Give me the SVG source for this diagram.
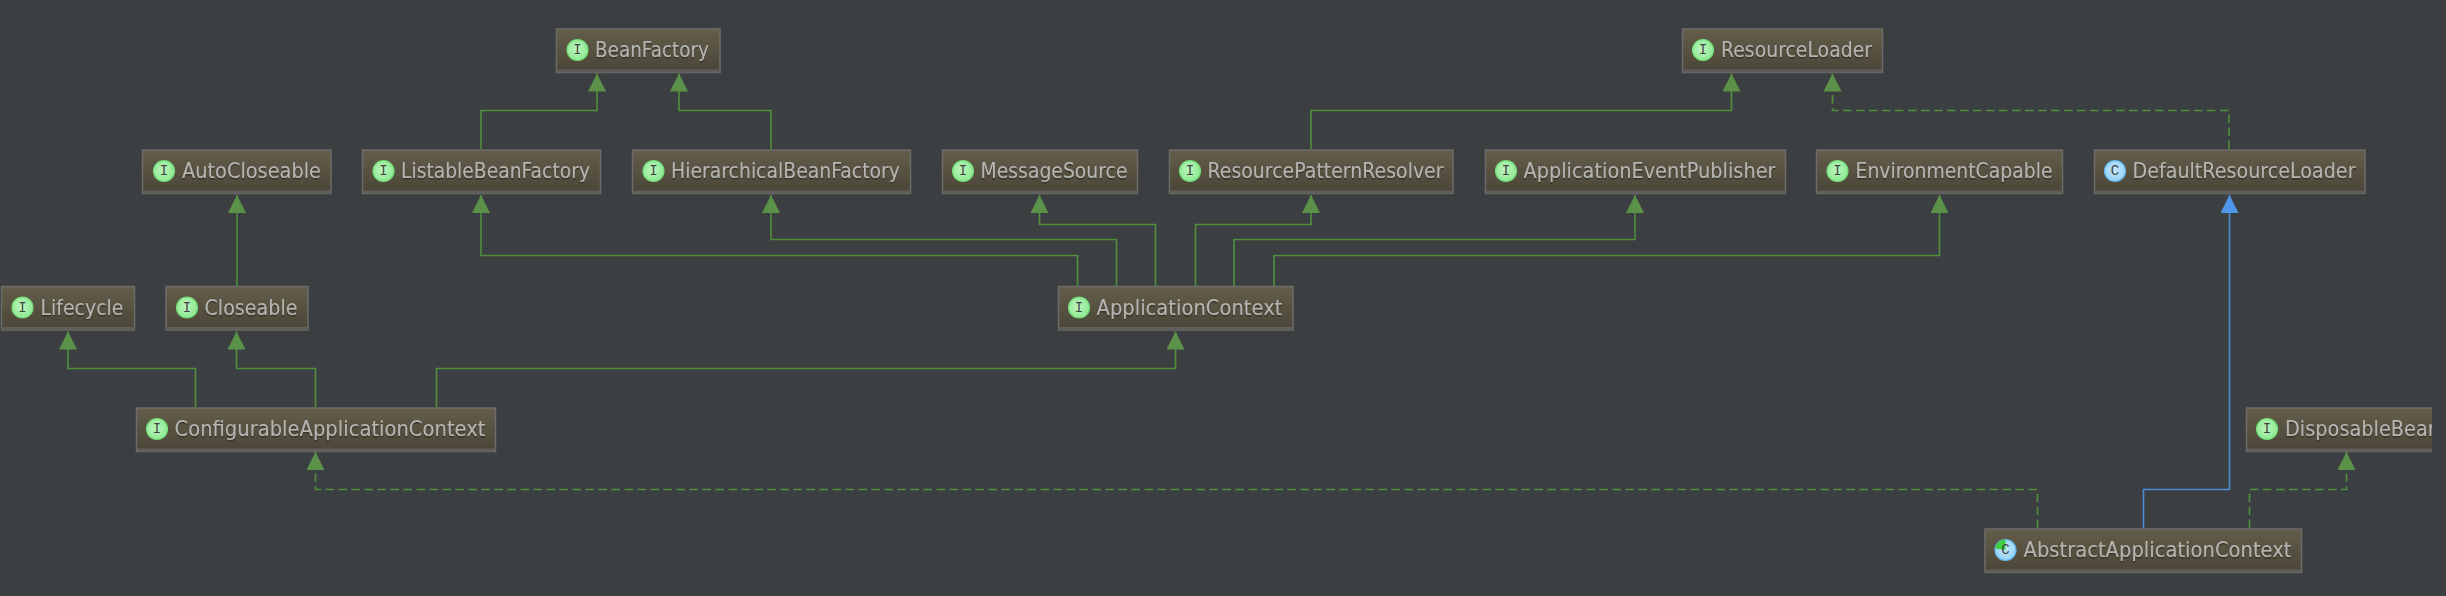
<svg xmlns="http://www.w3.org/2000/svg" width="2446" height="596" viewBox="0 0 2446 596">
<style>
.box{fill:url(#boxFill);stroke:#6c6c6a;stroke-width:1.5}
.band{fill:#5f5e5a}
.lbl{font-family:"DejaVu Sans",sans-serif;font-size:20.5px;fill:#b4b4b1;filter:url(#sh)}
.ic{stroke-width:1.2}
.i{fill:url(#gI);stroke:#72dc76}
.c{fill:url(#gC);stroke:#62b6ec}
.g{font-family:"Liberation Mono",monospace;font-size:14px;fill:#444;text-anchor:middle}
.cn{fill:none;stroke:#4f8f3e;stroke-width:1.6}
.d{stroke-dasharray:8.5 4.5}
.b{fill:none;stroke:#4d8bd6;stroke-width:1.6}
</style>
<defs>
<linearGradient id="boxFill" x1="0" y1="0" x2="0" y2="1"><stop offset="0" stop-color="#645d4b"/><stop offset="1" stop-color="#4a4537"/></linearGradient>
<radialGradient id="gI" cx=".45" cy=".45" r=".6"><stop offset="0" stop-color="#bdf5bd"/><stop offset="1" stop-color="#8ae890"/></radialGradient>
<radialGradient id="gC" cx=".5" cy=".45" r=".6"><stop offset="0" stop-color="#c4e7fb"/><stop offset="1" stop-color="#8fd0f7"/></radialGradient>
<filter id="sh" x="-5%" y="-20%" width="110%" height="150%"><feDropShadow dx="0" dy="1.5" stdDeviation=".6" flood-color="#2c2a22" flood-opacity=".8"/></filter>
<clipPath id="cut"><rect x="2240" y="400" width="192" height="60"/></clipPath>
<marker id="ag" markerUnits="userSpaceOnUse" markerWidth="18" markerHeight="18" refX="18" refY="9" orient="auto"><path d="M0 0L18 9L0 18Z" fill="#5b9149"/></marker>
<marker id="ab" markerUnits="userSpaceOnUse" markerWidth="18" markerHeight="18" refX="18" refY="9" orient="auto"><path d="M0 0L18 9L0 18Z" fill="#4f97ea"/></marker>
</defs>
<rect width="2446" height="596" fill="#3c3f41"/>
<g id="connectors">
<path class="cn" marker-end="url(#ag)" d="M481 149V110.5H597V73.5"/>
<path class="cn" marker-end="url(#ag)" d="M771 149V110.5H679V73.5"/>
<path class="cn" marker-end="url(#ag)" d="M237 286V195"/>
<path class="cn" marker-end="url(#ag)" d="M1077.5 286V255.5H481V195"/>
<path class="cn" marker-end="url(#ag)" d="M1116.5 286V239.5H771V195"/>
<path class="cn" marker-end="url(#ag)" d="M1155.5 286V224.5H1039.5V195"/>
<path class="cn" marker-end="url(#ag)" d="M1195.5 286V224.5H1311V195"/>
<path class="cn" marker-end="url(#ag)" d="M1311 149V110.5H1731.5V73.5"/>
<path class="cn" marker-end="url(#ag)" d="M1234 286V239.5H1635V195"/>
<path class="cn" marker-end="url(#ag)" d="M1274 286V255.5H1939.5V195"/>
<path class="cn d" marker-end="url(#ag)" d="M2229 149V110.5H1832.5V73.5"/>
<path class="b" marker-end="url(#ab)" d="M2143.5 528V489.5H2229.5V195"/>
<path class="cn d" marker-end="url(#ag)" d="M2037.5 528V489.5H315.5V452"/>
<path class="cn d" marker-end="url(#ag)" d="M2249.5 528V489.5H2346.5V452"/>
<path class="cn" marker-end="url(#ag)" d="M195.5 407V368.5H68V331.5"/>
<path class="cn" marker-end="url(#ag)" d="M315.5 407V368.5H236.5V331.5"/>
<path class="cn" marker-end="url(#ag)" d="M436.5 407V368.5H1175.5V331.5"/>
</g>
<g id="BeanFactory"><rect class="box" x="556.5" y="29" width="163.5" height="43.5"/><rect class="band" x="557" y="69.5" width="163" height="3"/><circle class="ic i" cx="577.5" cy="50" r="10.5"/><text class="g" x="577.5" y="54">I</text><text class="lbl" x="595" y="57" textLength="114" lengthAdjust="spacingAndGlyphs">BeanFactory</text></g>
<g id="ResourceLoader"><rect class="box" x="1682.5" y="29" width="200" height="43.5"/><rect class="band" x="1683" y="69.5" width="199" height="3"/><circle class="ic i" cx="1703" cy="50" r="10.5"/><text class="g" x="1703" y="54">I</text><text class="lbl" x="1721" y="57" textLength="151" lengthAdjust="spacingAndGlyphs">ResourceLoader</text></g>
<g id="AutoCloseable"><rect class="box" x="142.5" y="150" width="188.5" height="43.5"/><rect class="band" x="143" y="190.5" width="188" height="3"/><circle class="ic i" cx="164" cy="171" r="10.5"/><text class="g" x="164" y="175">I</text><text class="lbl" x="182" y="178" textLength="139" lengthAdjust="spacingAndGlyphs">AutoCloseable</text></g>
<g id="ListableBeanFactory"><rect class="box" x="362.5" y="150" width="238" height="43.5"/><rect class="band" x="363" y="190.5" width="237.5" height="3"/><circle class="ic i" cx="383.5" cy="171" r="10.5"/><text class="g" x="383.5" y="175">I</text><text class="lbl" x="401" y="178" textLength="189" lengthAdjust="spacingAndGlyphs">ListableBeanFactory</text></g>
<g id="HierarchicalBeanFactory"><rect class="box" x="632.5" y="150" width="278" height="43.5"/><rect class="band" x="633" y="190.5" width="277.5" height="3"/><circle class="ic i" cx="653.5" cy="171" r="10.5"/><text class="g" x="653.5" y="175">I</text><text class="lbl" x="671" y="178" textLength="229" lengthAdjust="spacingAndGlyphs">HierarchicalBeanFactory</text></g>
<g id="MessageSource"><rect class="box" x="942.5" y="150" width="195" height="43.5"/><rect class="band" x="943" y="190.5" width="194.5" height="3"/><circle class="ic i" cx="963" cy="171" r="10.5"/><text class="g" x="963" y="175">I</text><text class="lbl" x="980.5" y="178" textLength="147" lengthAdjust="spacingAndGlyphs">MessageSource</text></g>
<g id="ResourcePatternResolver"><rect class="box" x="1169.5" y="150" width="283.5" height="43.5"/><rect class="band" x="1170" y="190.5" width="283" height="3"/><circle class="ic i" cx="1190" cy="171" r="10.5"/><text class="g" x="1190" y="175">I</text><text class="lbl" x="1207.5" y="178" textLength="236" lengthAdjust="spacingAndGlyphs">ResourcePatternResolver</text></g>
<g id="ApplicationEventPublisher"><rect class="box" x="1485.5" y="150" width="300" height="43.5"/><rect class="band" x="1486" y="190.5" width="299.5" height="3"/><circle class="ic i" cx="1506" cy="171" r="10.5"/><text class="g" x="1506" y="175">I</text><text class="lbl" x="1523.5" y="178" textLength="252" lengthAdjust="spacingAndGlyphs">ApplicationEventPublisher</text></g>
<g id="EnvironmentCapable"><rect class="box" x="1816.5" y="150" width="246" height="43.5"/><rect class="band" x="1817" y="190.5" width="245.5" height="3"/><circle class="ic i" cx="1837.5" cy="171" r="10.5"/><text class="g" x="1837.5" y="175">I</text><text class="lbl" x="1855.5" y="178" textLength="197" lengthAdjust="spacingAndGlyphs">EnvironmentCapable</text></g>
<g id="DefaultResourceLoader"><rect class="box" x="2094.5" y="150" width="270.5" height="43.5"/><rect class="band" x="2095" y="190.5" width="270" height="3"/><circle class="ic c" cx="2115" cy="171" r="10.5"/><text class="g" x="2115" y="175">C</text><text class="lbl" x="2132.5" y="178" textLength="223" lengthAdjust="spacingAndGlyphs">DefaultResourceLoader</text></g>
<g id="Lifecycle"><rect class="box" x="1.5" y="286.5" width="133" height="43.5"/><rect class="band" x="2" y="327" width="132.5" height="3"/><circle class="ic i" cx="22.5" cy="307.5" r="10.5"/><text class="g" x="22.5" y="311.5">I</text><text class="lbl" x="40.5" y="314.5" textLength="83" lengthAdjust="spacingAndGlyphs">Lifecycle</text></g>
<g id="Closeable"><rect class="box" x="166" y="286.5" width="142" height="43.5"/><rect class="band" x="166.5" y="327" width="141.5" height="3"/><circle class="ic i" cx="187" cy="307.5" r="10.5"/><text class="g" x="187" y="311.5">I</text><text class="lbl" x="204.5" y="314.5" textLength="93" lengthAdjust="spacingAndGlyphs">Closeable</text></g>
<g id="ApplicationContext"><rect class="box" x="1058.5" y="286.5" width="234.5" height="43.5"/><rect class="band" x="1059" y="327" width="234" height="3"/><circle class="ic i" cx="1079" cy="307.5" r="10.5"/><text class="g" x="1079" y="311.5">I</text><text class="lbl" x="1096.5" y="314.5" textLength="186" lengthAdjust="spacingAndGlyphs">ApplicationContext</text></g>
<g id="ConfigurableApplicationContext"><rect class="box" x="136.5" y="408" width="359" height="43.5"/><rect class="band" x="137" y="448.5" width="358.5" height="3"/><circle class="ic i" cx="157" cy="429" r="10.5"/><text class="g" x="157" y="433">I</text><text class="lbl" x="174.5" y="436" textLength="311" lengthAdjust="spacingAndGlyphs">ConfigurableApplicationContext</text></g>
<g id="DisposableBean" clip-path="url(#cut)"><rect class="box" x="2246.5" y="408" width="200" height="43.5"/><rect class="band" x="2247" y="448.5" width="199" height="3"/><circle class="ic i" cx="2267" cy="429" r="10.5"/><text class="g" x="2267" y="433">I</text><text class="lbl" x="2285" y="436" textLength="155" lengthAdjust="spacingAndGlyphs">DisposableBean</text></g>
<g id="AbstractApplicationContext"><rect class="box" x="1985" y="529" width="316.5" height="43.5"/><rect class="band" x="1985.5" y="569.5" width="316" height="3"/><circle class="ic c" cx="2005.5" cy="550" r="10.5"/><path d="M2005.5 550V539.5A10.5 10.5 0 0 0 1995.2 548.5Z" fill="#3fd03f"/><text class="g" x="2005.5" y="554">C</text><text class="lbl" x="2023.5" y="557" textLength="268" lengthAdjust="spacingAndGlyphs">AbstractApplicationContext</text></g>
</svg>
